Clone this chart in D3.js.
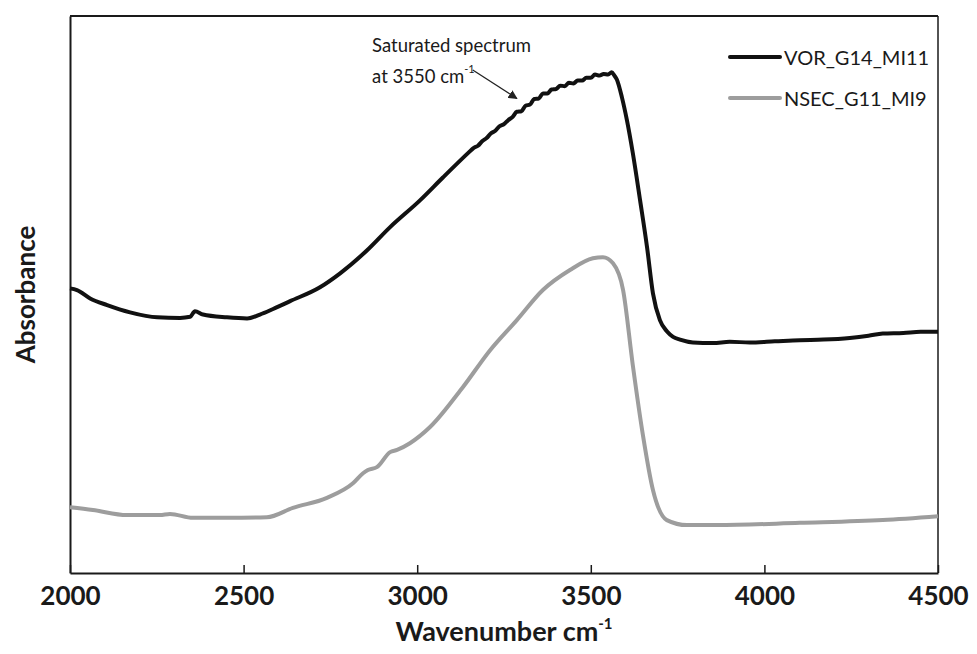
<!DOCTYPE html>
<html>
<head>
<meta charset="utf-8">
<script src="https://cdn.jsdelivr.net/npm/d3@7"></script>
<style>
  html, body { margin: 0; padding: 0; background: #fff; }
  svg { display: block; }
  text { font-family: Lato, "Open Sans", sans-serif; fill: #1a1a1a; }
</style>
</head>
<body>
<svg id="chart" width="977" height="654"></svg>
<script>
// ---- Data (absorbance in arbitrary units) ----
const vorWavenumber = [2000,2020,2058,2107,2173,2251,2317,2346,2360,2383,2452,2510,2547,2585,2634,2720,2778,2855,2922,3008,3074,3150,3162,3175,3187,3200,3212,3225,3237,3250,3262,3275,3287,3300,3312,3325,3337,3350,3362,3375,3387,3400,3412,3425,3437,3450,3462,3475,3487,3500,3512,3525,3537,3550,3560,3568,3575,3590,3604,3621,3642,3662,3679,3699,3719,3737,3757,3794,3852,3900,3958,4030,4102,4170,4246,4300,4341,4400,4450,4500];
const vorAbsorbance = [51.1,50.8,49.3,48.1,46.8,45.9,45.8,46.0,47.0,46.4,45.9,45.7,46.4,47.4,48.8,51.3,53.8,57.9,62.1,66.9,71.0,75.6,76.3,76.7,77.5,78.1,78.9,79.4,80.2,80.6,81.3,81.9,82.8,82.9,83.9,84.1,85.1,85.2,86.1,86.1,86.8,86.9,87.5,87.4,88.0,87.9,88.4,88.4,88.9,88.9,89.5,89.3,89.6,89.5,89.9,89.3,88.6,85.3,81.3,75.4,66.9,58.5,50.2,45.4,43.4,42.4,41.9,41.4,41.3,41.5,41.4,41.6,41.8,41.9,42.2,42.6,43.0,43.1,43.3,43.3];

const nsecWavenumber = [2000,2066,2164,2259,2288,2354,2452,2567,2642,2740,2815,2844,2858,2884,2922,2942,2979,3037,3132,3210,3287,3362,3440,3506,3535,3564,3593,3621,3650,3679,3719,3777,3863,4102,4341,4500];
const nsecAbsorbance = [11.8,11.3,10.4,10.4,10.6,9.9,9.9,10.0,11.7,13.5,16.1,17.9,18.5,19.0,21.7,22.1,23.3,26.2,33.4,40.0,45.4,50.8,54.4,56.5,56.7,55.6,50.8,37.3,24.8,14.9,9.5,8.6,8.6,9.0,9.5,10.2];

const seriesNames = ["VOR_G14_MI11", "NSEC_G11_MI9"];
const seriesColors = ["#111111", "#9d9d9d"];
const xTicks = [2000, 2500, 3000, 3500, 4000, 4500];
const xDomain = [2000, 4500];
const yDomain = [0, 100];
const annotationLines = ["Saturated spectrum", "at 3550 cm"];
const annotationTextPos = [[2870, 93.5], [2870, 88.0]];
const annotationArrow = [[3160, 90.3], [3287, 85.2]];

// ---- Layout ----
const svg = d3.select("#chart");
const pLeft = 70, pRight = 938, pTop = 16, pBottom = 573;

const x = d3.scaleLinear().domain(xDomain).range([pLeft, pRight]);
const y = d3.scaleLinear().domain(yDomain).range([pBottom, pTop]);

// frame: top and right borders
svg.append("line").attr("x1", pLeft).attr("x2", pRight).attr("y1", pTop).attr("y2", pTop)
  .attr("stroke", "#1a1a1a").attr("stroke-width", 2);
svg.append("line").attr("x1", pRight).attr("x2", pRight).attr("y1", pTop).attr("y2", pBottom)
  .attr("stroke", "#1a1a1a").attr("stroke-width", 1.5);

// left axis (no ticks)
const yAxis = svg.append("g").attr("transform", `translate(${pLeft},0)`)
  .call(d3.axisLeft(y).tickValues([]).tickSizeOuter(0));
yAxis.select(".domain").attr("stroke", "#1a1a1a").attr("stroke-width", 2);

// bottom axis with inward ticks
const xAxis = svg.append("g").attr("transform", `translate(0,${pBottom})`)
  .call(d3.axisBottom(x).tickValues(xTicks).tickFormat(d3.format("d"))
    .tickSizeInner(-8).tickSizeOuter(0).tickPadding(14));
xAxis.select(".domain").attr("stroke", "#1a1a1a").attr("stroke-width", 2);
xAxis.selectAll(".tick line").attr("stroke", "#1a1a1a").attr("stroke-width", 1.5);
xAxis.selectAll(".tick text")
  .attr("font-family", "Lato, sans-serif").attr("font-size", 26).attr("font-weight", 700)
  .attr("fill", "#1a1a1a");

// axis titles
const xt = svg.append("text").attr("x", (pLeft + pRight) / 2).attr("y", 641)
  .attr("text-anchor", "middle").attr("font-size", 27).attr("font-weight", 700);
xt.append("tspan").text("Wavenumber cm");
xt.append("tspan").attr("font-size", 15).attr("dy", -12).text("-1");

svg.append("text").attr("transform", `translate(25,${(pTop + pBottom) / 2}) rotate(-90)`)
  .attr("text-anchor", "middle").attr("dominant-baseline", "central")
  .attr("font-size", 26).attr("font-weight", 700).text("Absorbance");

// series
const line = d3.line().x(d => x(d[0])).y(d => y(d[1])).curve(d3.curveMonotoneX);
const vorData = vorWavenumber.map((w, i) => [w, vorAbsorbance[i]]);
const nsecData = nsecWavenumber.map((w, i) => [w, nsecAbsorbance[i]]);

svg.append("path").datum(nsecData).attr("d", line)
  .attr("fill", "none").attr("stroke", seriesColors[1]).attr("stroke-width", 4)
  .attr("stroke-linejoin", "round");
svg.append("path").datum(vorData).attr("d", line)
  .attr("fill", "none").attr("stroke", seriesColors[0]).attr("stroke-width", 4)
  .attr("stroke-linejoin", "round");

// legend
const legendY = [57, 98];
seriesNames.forEach((name, i) => {
  svg.append("line").attr("x1", 730).attr("x2", 780).attr("y1", legendY[i]).attr("y2", legendY[i])
    .attr("stroke", seriesColors[i]).attr("stroke-width", 4).attr("stroke-linecap", "round");
  svg.append("text").attr("x", 784).attr("y", legendY[i]).attr("dominant-baseline", "central")
    .attr("font-size", 20).text(name);
});

// annotation
svg.append("defs").append("marker").attr("id", "arrow")
  .attr("viewBox", "0 0 10 10").attr("refX", 9).attr("refY", 5)
  .attr("markerWidth", 7).attr("markerHeight", 7).attr("orient", "auto")
  .append("path").attr("d", "M0,0 L10,5 L0,10 z").attr("fill", "#222");

svg.append("text").attr("x", x(annotationTextPos[0][0])).attr("y", y(annotationTextPos[0][1]))
  .attr("font-size", 18.5).text(annotationLines[0]);
const a2 = svg.append("text").attr("x", x(annotationTextPos[1][0])).attr("y", y(annotationTextPos[1][1]))
  .attr("font-size", 18.5);
a2.append("tspan").text(annotationLines[1]);
a2.append("tspan").attr("font-size", 11).attr("dy", -10).text("-1");

svg.append("line")
  .attr("x1", x(annotationArrow[0][0])).attr("y1", y(annotationArrow[0][1]))
  .attr("x2", x(annotationArrow[1][0])).attr("y2", y(annotationArrow[1][1]))
  .attr("stroke", "#222").attr("stroke-width", 1.3).attr("marker-end", "url(#arrow)");
</script>
</body>
</html>
